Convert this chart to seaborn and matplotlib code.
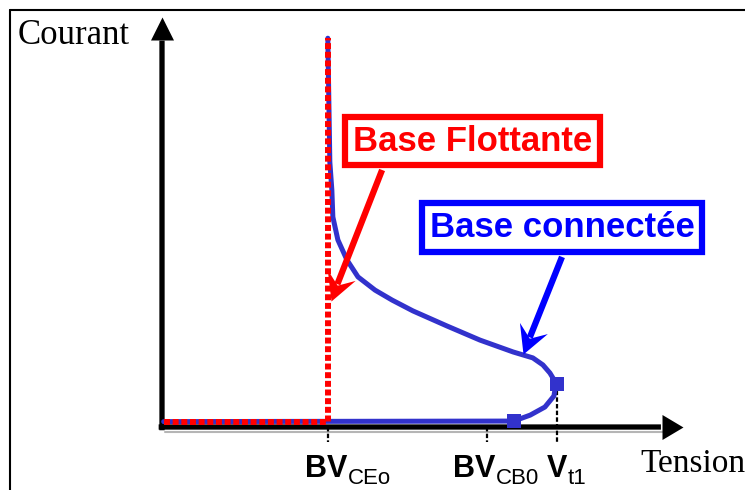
import matplotlib
matplotlib.use("Agg")
import numpy as np
import pandas as pd
import matplotlib.pyplot as plt
import seaborn as sns
from matplotlib.lines import Line2D
from matplotlib.path import Path

# -----------------------------
# DATA (tension / courant, arbitrary units)
# -----------------------------
v_connected = [4.95, 5.01, 5.07, 5.10, 5.25, 5.52, 5.85, 6.36, 6.87, 7.49,
               8.51, 9.49, 10.48, 11.07, 11.37, 11.58, 11.76, 11.70, 11.43,
               10.99, 10.50, 0.05]
i_connected = [14.4, 9.81, 8.78, 7.78, 6.93, 6.19, 5.56, 5.07, 4.70, 4.30,
               3.74, 3.22, 2.78, 2.56, 2.30, 2.00, 1.63, 1.15, 0.74,
               0.44, 0.22, 0.20]

v_floating = [0.05, 4.95, 4.95]
i_floating = [0.20, 0.20, 14.4]

marker_v = [10.50, 11.80]
marker_i = [0.22, 1.60]

tick_v = [4.95, 9.70, 11.80]
tick_top = [0.0, 0.0, 1.60]
tick_main = ["BV", "BV", "V"]
tick_sub = ["CEo", "CB0", "t1"]
tick_label_x = [4.27, 8.69, 11.49]

# -----------------------------
# STYLE
# -----------------------------
sns.set_theme(style="white")
plt.rcParams.update({
    "font.family": ["Liberation Sans", "DejaVu Sans"],
    "text.color": "black",
})

BLUE = "#3232cc"
RED = "#ff0000"
PURE_BLUE = "#0000ff"

fig = plt.figure(figsize=(7.45, 4.9), dpi=100)
ax = fig.add_axes([0, 0, 1, 1])
ax.set_xlim(-4.836, 17.403)
ax.set_ylim(-2.333, 15.815)
ax.axis("off")

PX2PT = 72 / fig.dpi


def arrow(start, tip, color, lw, length, half_w, notch, zorder):
    # shaft + arrow head drawn as a rotated marker (sizes in pixels)
    p0 = ax.transData.transform(start)
    p1 = ax.transData.transform(tip)
    ang = np.arctan2(p1[1] - p0[1], p1[0] - p0[0])
    verts = np.array([[0, 0], [-length, half_w], [-notch, 0],
                      [-length, -half_w], [0, 0]]) * PX2PT
    rot = np.array([[np.cos(ang), -np.sin(ang)], [np.sin(ang), np.cos(ang)]])
    verts = verts @ rot.T
    size = 2 * np.abs(verts).max()
    codes = [Path.MOVETO, Path.LINETO, Path.LINETO, Path.LINETO,
             Path.CLOSEPOLY]
    ax.annotate("", xy=tip, xytext=start,
                arrowprops=dict(arrowstyle="-", color=color, lw=lw,
                                shrinkA=0, shrinkB=(notch + 1) * PX2PT,
                                capstyle="butt"),
                zorder=zorder)
    ax.plot([tip[0]], [tip[1]], marker=Path(verts, codes), markersize=size,
            color=color, markeredgewidth=0, linestyle="none", zorder=zorder)


# frame
fig.add_artist(Line2D([10 / 745, 1.0], [1 - 10 / 490] * 2,
                      transform=fig.transFigure, color="black", lw=1.5))
fig.add_artist(Line2D([10 / 745] * 2, [0.0, 1 - 10 / 490],
                      transform=fig.transFigure, color="black", lw=1.5))

# axes
ax.plot([0.1, 15.0], [-0.17, -0.17], color="#b5b5b5", lw=1.5, zorder=1)
arrow((-0.1, 0), (15.55, 0), "black", 3.8, 21, 12.5, 21, 2)
arrow((0, -0.12), (0, 15.2), "black", 3.8, 23, 11.5, 23, 2)

# curves
df_conn = pd.DataFrame({"v": v_connected, "i": i_connected})
sns.lineplot(data=df_conn, x="v", y="i", sort=False, estimator=None,
             color=BLUE, lw=3.6, ax=ax, zorder=3)
for line in ax.lines:
    line.set_solid_joinstyle("round")
ax.plot(v_floating, i_floating, color=RED, lw=4.3,
        linestyle=(0, (1.0, 0.45)), zorder=4)
ax.scatter(marker_v, marker_i, marker="s", s=90, color=BLUE,
           linewidths=0, zorder=5)

# dashed ticks
for v, top in zip(tick_v, tick_top):
    ax.plot([v, v], [top, -0.55], color="black", lw=1.6,
            linestyle=(0, (2, 1)), zorder=2)

# tick labels: bold main part + lowered subscript
for x, main, sub in zip(tick_label_x, tick_main, tick_sub):
    t = ax.text(x, -1.85, main, fontsize=22, fontweight="bold",
                ha="left", va="baseline")
    ax.annotate(sub, xy=(1, 0), xycoords=t, xytext=(0.5, 0),
                textcoords="offset points", fontsize=16,
                ha="left", va="baseline")

# axis titles
ax.text(-4.3, 14.2, "Courant", fontsize=25, family="Liberation Serif",
        ha="left", va="baseline")
ax.text(14.27, -1.67, "Tension", fontsize=24, family="Liberation Serif",
        ha="left", va="baseline")

# callouts
ax.text(9.27, 10.59, "Base Flottante", fontsize=25, fontweight="bold",
        color=RED, ha="center", va="center", zorder=6,
        bbox=dict(boxstyle="square,pad=0.22", fc="white", ec=RED, lw=4.5))
ax.text(11.94, 7.39, "Base connectée", fontsize=25, fontweight="bold",
        color=PURE_BLUE, ha="center", va="center", zorder=6,
        bbox=dict(boxstyle="square,pad=0.22", fc="white", ec=PURE_BLUE,
                  lw=4.5))

arrow((6.57, 9.52), (5.04, 4.67), RED, 4.5, 28, 15, 17, 6)
arrow((11.94, 6.30), (10.78, 2.70), PURE_BLUE, 4.5, 28, 15, 17, 6)

fig.savefig("out.png", dpi=100)
